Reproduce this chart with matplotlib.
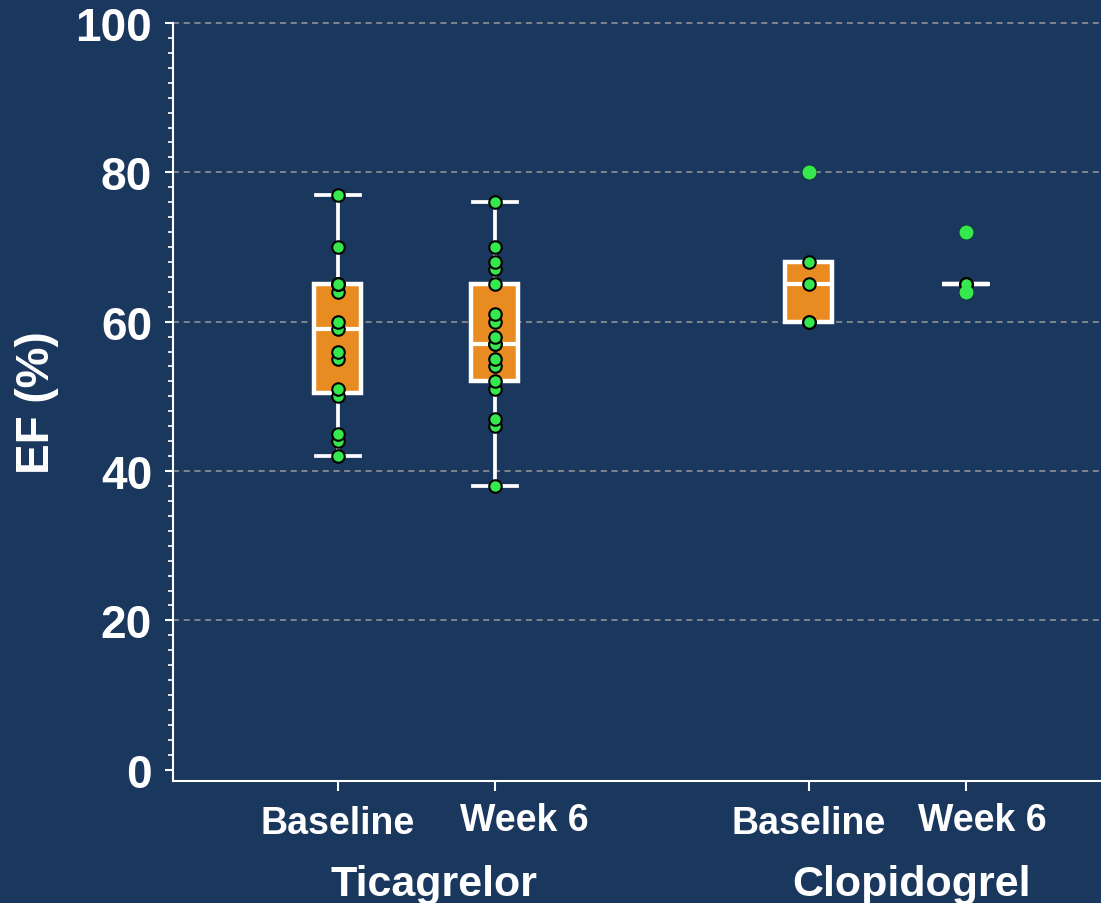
import numpy as np
import matplotlib
matplotlib.use('Agg')
import matplotlib.pyplot as plt
from matplotlib.transforms import ScaledTranslation

# EF (%) per patient
tic_baseline = [42, 44, 45, 50, 51, 55, 56, 59, 60, 64, 65, 65, 65, 70, 77]
tic_week6 = [38, 46, 47, 51, 52, 54, 55, 57, 57, 58, 60, 61, 65, 67, 68, 70, 76]
clop_baseline = [60, 60, 65, 68, 80]
clop_week6 = [64, 65, 65, 65, 72]

series = [tic_baseline, tic_week6, clop_baseline, clop_week6]
positions = [1, 2, 4, 5]
tick_labels = ['Baseline', 'Week 6', 'Baseline', 'Week 6']
groups = ['Ticagrelor', 'Clopidogrel']
group_centers = [1.5, 4.5]
grid_values = [20, 40, 60, 80, 100]

BG = '#1a375e'
ORANGE = '#e88c22'
GREEN = '#35e84e'
WHITE = 'white'

plt.rcParams['font.family'] = ['Liberation Sans', 'DejaVu Sans']
plt.rcParams['font.weight'] = 'bold'

fig = plt.figure(figsize=(11.01, 9.04), dpi=100, facecolor=BG)
ax = fig.add_axes([0.157, 0.135, 0.843, 0.8385])
ax.set_facecolor(BG)

for g in grid_values:
    ax.axhline(g, color='#9a9a9a', linestyle=(0, (4, 3)), linewidth=1.1,
               zorder=0, clip_on=False)

ax.boxplot(series, positions=positions, widths=0.3, whis=1.4,
           patch_artist=True, capwidths=0.28,
           boxprops=dict(facecolor=ORANGE, edgecolor=WHITE, linewidth=3.2),
           medianprops=dict(color=WHITE, linewidth=3),
           whiskerprops=dict(color=WHITE, linewidth=2.7),
           capprops=dict(color=WHITE, linewidth=2.7),
           flierprops=dict(marker='o', markerfacecolor=GREEN,
                           markeredgecolor='none', markersize=10.2,
                           zorder=5))

for pos, vals in zip(positions, series):
    ax.plot(np.full(len(vals), pos), vals, 'o', color=GREEN,
            markeredgecolor='black', markeredgewidth=1.5, markersize=9,
            zorder=4)

ax.set_xlim(-0.05, 5.86)
ax.set_ylim(-1.5, 100)
ax.set_yticks(range(0, 101, 20))
ax.set_yticks(range(0, 101, 2), minor=True)
ax.set_xticks(positions)
ax.set_xticklabels(tick_labels)

for side in ['top', 'right']:
    ax.spines[side].set_visible(False)
for side in ['left', 'bottom']:
    ax.spines[side].set_color(WHITE)
    ax.spines[side].set_linewidth(1.5)

ax.tick_params(axis='y', which='major', length=6, width=1.5, colors=WHITE,
               labelsize=33, pad=9)
ax.tick_params(axis='y', which='minor', length=3.6, width=1.2, colors=WHITE)
ax.tick_params(axis='x', which='major', length=7, width=1.5, colors=WHITE,
               labelsize=27, pad=10)
for lab in ax.get_yticklabels() + ax.get_xticklabels():
    lab.set_fontweight('bold')

# Week 6 labels sit a bit right of their ticks in the original
label_shift = [(0, 0), (30, 3), (0, 0), (16, 3)]
for lab, (dx, dy) in zip(ax.get_xticklabels(), label_shift):
    lab.set_transform(lab.get_transform() +
                      ScaledTranslation(dx / 100, dy / 100, fig.dpi_scale_trans))

ax.set_ylabel('EF (%)', fontsize=33, fontweight='bold', color=WHITE,
              labelpad=12)

group_shift = [18, 24]
for name, cx, dx in zip(groups, group_centers, group_shift):
    ax.annotate(name, xy=(cx, 0), xycoords=('data', 'axes fraction'),
                xytext=(dx * 0.72, -82), textcoords='offset points',
                ha='center', va='baseline', fontsize=31, fontweight='bold',
                color=WHITE, annotation_clip=False)

fig.savefig('out.png', dpi=100, facecolor=BG)
